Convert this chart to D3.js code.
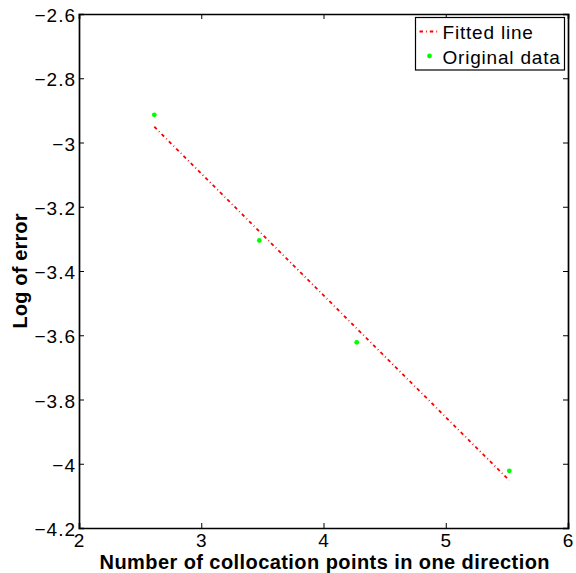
<!DOCTYPE html>
<meta charset="utf-8">
<script src="https://d3js.org/d3.v7.min.js"></script>
<style>
  body { margin: 0; background: #fff; }
  text { font-family: "Liberation Sans", Arial, sans-serif; }
</style>
<div id="chart"></div>
<script>

// data
var pointsX = [2.616, 3.475, 4.272, 5.520];
var pointsY = [-2.914, -3.305, -3.622, -4.022];
// fitted line, its two ends
var fittedX = [2.616, 5.520];
var fittedY = [-2.951, -4.052];

var xTicks = [2, 3, 4, 5, 6];
var yTicks = [-2.6, -2.8, -3, -3.2, -3.4, -3.6, -3.8, -4, -4.2];
var legendLabels = ["Fitted line", "Original data"];

var margin = {top: 14, right: 8, bottom: 45, left: 79},
    width = 568 - margin.left,
    height = 528 - margin.top;

var svg = d3.select("#chart")
  .append("svg")
    .attr("width", 576)
    .attr("height", 573)
  .append("g")
    .attr("transform", "translate(" + margin.left + "," + margin.top + ")");

var x = d3.scaleLinear().domain([2, 6]).range([0, width]);
var y = d3.scaleLinear().domain([-4.2, -2.6]).range([height, 0]);

var fmt = function(d) { return d3.format("")(d).replace("-", "\u2212"); };

// axes, ticks pointing inward, on all four sides
var gx = svg.append("g")
  .attr("transform", "translate(0," + height + ")")
  .call(d3.axisBottom(x).tickValues(xTicks).tickSize(-5).tickPadding(6).tickFormat(fmt));
var gxt = svg.append("g")
  .call(d3.axisTop(x).tickValues(xTicks).tickSize(-5).tickFormat(""));
var gy = svg.append("g")
  .call(d3.axisLeft(y).tickValues(yTicks).tickSize(-5).tickPadding(3).tickFormat(fmt));
var gyr = svg.append("g")
  .attr("transform", "translate(" + width + ",0)")
  .call(d3.axisRight(y).tickValues(yTicks).tickSize(-5).tickFormat(""));

[gx, gxt, gy, gyr].forEach(function(g) {
  g.selectAll("path").attr("stroke", "#000").attr("stroke-width", 1.7);
  g.selectAll("line").attr("stroke", "#000").attr("stroke-width", 1);
  g.selectAll("text").attr("font-size", 19).attr("fill", "#000")
    .style("letter-spacing", "1px")
    .style("font-family", "'Liberation Sans', Arial, sans-serif");
});
gy.selectAll("text").attr("dy", "0.4em");
gx.selectAll("text").attr("dy", "0.68em");

// fitted line
svg.append("line")
  .attr("x1", x(fittedX[0])).attr("y1", y(fittedY[0]))
  .attr("x2", x(fittedX[1])).attr("y2", y(fittedY[1]))
  .attr("stroke", "#ff0000")
  .attr("stroke-width", 1.8)
  .attr("stroke-dasharray", "3.5,3,0.8,3");

// original data
svg.selectAll("circle.pt")
  .data(pointsX)
  .enter().append("circle")
    .attr("class", "pt")
    .attr("cx", function(d) { return x(d); })
    .attr("cy", function(d, i) { return y(pointsY[i]); })
    .attr("r", 2.4)
    .attr("fill", "#00ff00");

// axis titles
svg.append("text")
  .attr("x", 245.5)
  .attr("y", 554.5)
  .attr("text-anchor", "middle")
  .attr("font-size", 20)
  .attr("font-weight", "bold")
  .attr("textLength", 450)
  .attr("lengthAdjust", "spacing")
  .text("Number of collocation points in one direction");

svg.append("text")
  .attr("transform", "translate(-52," + (height / 2) + ") rotate(-90)")
  .attr("text-anchor", "middle")
  .attr("font-size", 20)
  .attr("font-weight", "bold")
  .attr("textLength", 115)
  .attr("lengthAdjust", "spacing")
  .text("Log of error");

// legend
var lg = svg.append("g").attr("transform", "translate(" + (415.5 - margin.left) + "," + (17.5 - margin.top) + ")");
lg.append("rect")
  .attr("width", 149).attr("height", 52.5)
  .attr("fill", "#fff").attr("stroke", "#000").attr("stroke-width", 1.2);
lg.append("line")
  .attr("x1", 4).attr("x2", 23).attr("y1", 14).attr("y2", 14)
  .attr("stroke", "#ff0000").attr("stroke-width", 1.8)
  .attr("stroke-dasharray", "3.5,3,0.8,3");
lg.append("circle")
  .attr("cx", 14).attr("cy", 38.5).attr("r", 2.4).attr("fill", "#00ff00");
lg.selectAll("text.lab")
  .data(legendLabels)
  .enter().append("text")
    .attr("class", "lab")
    .attr("x", 27)
    .attr("y", function(d, i) { return 21 + i * 25; })
    .attr("font-size", 19)
    .style("letter-spacing", "0.8px")
    .text(function(d) { return d; });

</script>
